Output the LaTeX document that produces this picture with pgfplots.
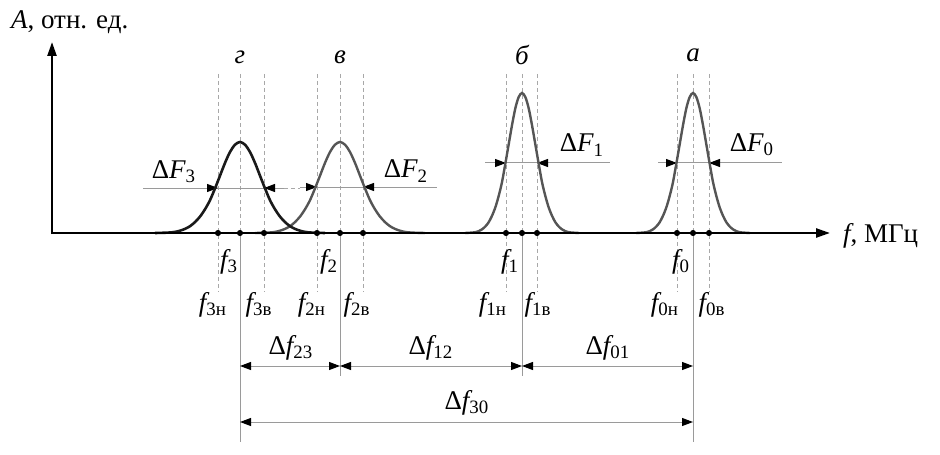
\documentclass[border=0pt]{standalone}
\usepackage{fontspec}
\setmainfont{Liberation Serif}
\usepackage{pgfplots}
\pgfplotsset{compat=1.18}
\usetikzlibrary{arrows.meta}

\definecolor{curveA}{HTML}{1A1A1A}
\definecolor{curveB}{HTML}{555555}
\definecolor{guide}{HTML}{A8A8A8}
\definecolor{thin}{HTML}{9A9A9A}

% f with an upright subscript
\newcommand{\fl}[1]{{\itshape f}\textsubscript{#1}}
\newcommand{\tip}{Triangle[length=5.5pt,width=4pt,color=black]}

\begin{document}
\begin{tikzpicture}[font=\fontsize{13.5}{15}\selectfont,
  dashl/.style={draw=guide, line width=0.5pt, dash pattern=on 2pt off 1.5pt},
  dim/.style={draw=thin, line width=0.5pt}]
\begin{axis}[
  x=0.5pt, y=0.5pt, y dir=reverse,
  xmin=0, xmax=940, ymin=0, ymax=454,
  scale only axis, hide axis, clip=false,
]
\path (0,0) rectangle (940,454);

% guide lines at the band edges
\pgfplotsinvokeforeach{218,264,317,363,506,537,677,709}{
  \draw[dashl] (#1,74) -- (#1,292);
}
% centre lines: dashed above the axis, solid below
\pgfplotsinvokeforeach{240,340,522,693}{
  \draw[dashl] (#1,74) -- (#1,233);
}
\draw[dim] (240,233) -- (240,442);
\draw[dim] (693,233) -- (693,442);
\draw[dim] (340,233) -- (340,376);
\draw[dim] (522,233) -- (522,376);

% half-level lines
\draw[dim] (143,188) -- (284,188);
\draw[dashl] (284,188) -- (300,188);
\draw[dim] (300,187) -- (437,187);
\draw[dim] (485,163) -- (610,163);
\draw[dim] (658,163) -- (782,163);
\draw[dim, -{\tip}] (203,188) -- (218,188);
\draw[dim, -{\tip}] (279,188) -- (264,188);
\draw[dim, -{\tip}] (302,187) -- (317,187);
\draw[dim, -{\tip}] (378,187) -- (363,187);
\draw[dim, -{\tip}] (491,163) -- (506,163);
\draw[dim, -{\tip}] (552,163) -- (537,163);
\draw[dim, -{\tip}] (662,163) -- (677,163);
\draw[dim, -{\tip}] (724,163) -- (709,163);

% spectra
\addplot[curveB, line width=1.2pt, smooth] coordinates {
(255,233)(268,232.6)(275,231.9)(280,230.7)(285,228.9)(290,226.2)(295,222.1)
(300,216.6)(305,209.3)(310,200.2)(315,188.4)(320,175.7)(325,162.9)(330,152.0)
(335,144.7)(340,142)(345,144.7)(350,152.0)(355,162.9)(360,175.7)(365,188.4)
(370,200.2)(375,209.3)(380,216.6)(385,222.1)(390,226.2)(395,228.9)(400,230.7)
(405,231.9)(412,232.6)(425,233)};
\addplot[curveA, line width=1.3pt, smooth] coordinates {
(155,233)(168,232.6)(175,231.9)(180,230.7)(185,228.9)(190,226.2)(195,222.1)
(200,216.6)(205,209.3)(210,200.2)(215,188.4)(220,175.7)(225,162.9)(230,152.0)
(235,144.7)(240,142)(245,144.7)(250,152.0)(255,162.9)(260,175.7)(265,188.4)
(270,200.2)(275,209.3)(280,216.6)(285,222.1)(290,226.2)(295,228.9)(300,230.7)
(305,231.9)(312,232.6)(325,233)};
\addplot[curveB, line width=1.2pt, smooth] coordinates {
(465,233)(473.8,232.4)(478.4,231.3)(481.8,229.5)(485.1,226.7)(488.5,222.5)
(491.8,216.2)(495.2,207.8)(498.5,196.6)(501.9,182.6)(505.2,164.4)(508.6,144.8)
(512,125.2)(515.3,108.4)(518.6,97.2)(522,93)(525.4,97.2)(528.7,108.4)(532,125.2)
(535.4,144.8)(538.8,164.4)(542.1,182.6)(545.5,196.6)(548.8,207.8)(552.2,216.2)
(555.5,222.5)(558.9,226.7)(562.2,229.5)(565.6,231.3)(570.2,232.4)(579,233)};
\addplot[curveB, line width=1.2pt, smooth] coordinates {
(636,233)(644.8,232.4)(649.4,231.3)(652.8,229.5)(656.1,226.7)(659.5,222.5)
(662.8,216.2)(666.2,207.8)(669.5,196.6)(672.9,182.6)(676.2,164.4)(679.6,144.8)
(683,125.2)(686.3,108.4)(689.6,97.2)(693,93)(696.4,97.2)(699.7,108.4)(703,125.2)
(706.4,144.8)(709.8,164.4)(713.1,182.6)(716.5,196.6)(719.8,207.8)(723.2,216.2)
(726.5,222.5)(729.9,226.7)(733.2,229.5)(736.6,231.3)(741.2,232.4)(750,233)};

% axes
\addplot[black, line width=1.2pt, -{Triangle[length=7pt,width=4.5pt]}]
  coordinates {(52,233)(830,233)};
\addplot[black, line width=1.2pt, -{Triangle[length=7pt,width=4.5pt]}]
  coordinates {(52,234)(52,42)};

% marked frequencies on the axis
\addplot[only marks, mark=*, mark size=1.3pt, black] coordinates {
(218,233)(240,233)(264,233)(317,233)(340,233)(363,233)
(506,233)(522,233)(537,233)(677,233)(693,233)(709,233)};

% spacing dimensions
\draw[dim, {\tip}-{\tip}] (240,366) -- (340,366);
\draw[dim, {\tip}-{\tip}] (340,366) -- (522,366);
\draw[dim, {\tip}-{\tip}] (522,366) -- (693,366);
\draw[dim, {\tip}-{\tip}] (240,422) -- (693,422);

% labels
\node[anchor=west] at (4,22) {{\itshape A}, отн. ед.};
\node[anchor=west] at (836,236) {{\itshape f}, МГц};
\node at (240,57) {\itshape г};
\node at (340,57) {\itshape в};
\node at (522,55) {\itshape б};
\node at (693,55) {\itshape а};
\node at (174,172) {Δ{\itshape F}\textsubscript{3}};
\node at (406,171) {Δ{\itshape F}\textsubscript{2}};
\node at (582,145) {Δ{\itshape F}\textsubscript{1}};
\node at (752,145) {Δ{\itshape F}\textsubscript{0}};
\node at (229,262) {\fl{3}};
\node at (329,262) {\fl{2}};
\node at (510,262) {\fl{1}};
\node at (681,262) {\fl{0}};
\node at (213,305) {\fl{3н}};
\node at (259,305) {\fl{3в}};
\node at (312,305) {\fl{2н}};
\node at (357,305) {\fl{2в}};
\node at (493,305) {\fl{1н}};
\node at (538,305) {\fl{1в}};
\node at (665,305) {\fl{0н}};
\node at (712,305) {\fl{0в}};
\node at (291,348) {Δ\fl{23}};
\node at (431,348) {Δ\fl{12}};
\node at (608,348) {Δ\fl{01}};
\node at (467,403) {Δ\fl{30}};
\end{axis}
\end{tikzpicture}
\end{document}
